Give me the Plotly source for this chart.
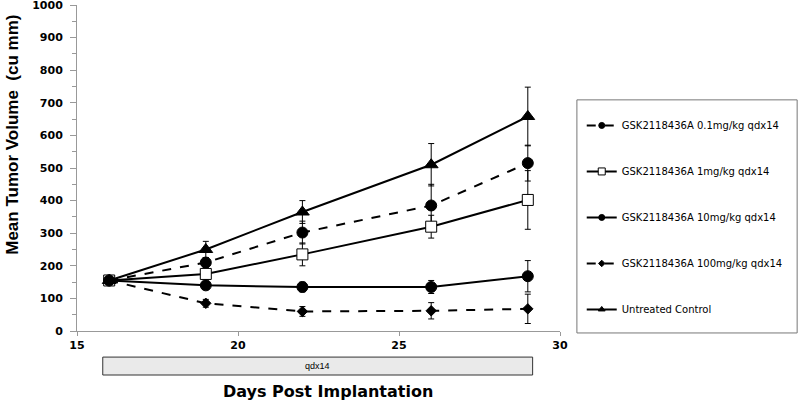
import plotly.graph_objects as go

days = [16, 19, 22, 26, 29]

names = [
    "GSK2118436A 0.1mg/kg qdx14",
    "GSK2118436A 1mg/kg qdx14",
    "GSK2118436A 10mg/kg qdx14",
    "GSK2118436A 100mg/kg qdx14",
    "Untreated Control",
]

dose_01 = [155, 210, 302, 385, 515]
dose_01_err = [8, 15, 35, 65, 55]
dose_1 = [155, 175, 235, 320, 402]
dose_1_err = [8, 12, 35, 35, 90]
dose_10 = [155, 140, 135, 135, 168]
dose_10_err = [8, 10, 15, 20, 48]
dose_100 = [155, 85, 60, 62, 68]
dose_100_err = [8, 12, 15, 25, 45]
control = [155, 250, 365, 510, 658]
control_err = [8, 25, 35, 65, 90]

dosing_start = 15.8
dosing_end = 29.15
dosing_label = "qdx14"

x_title = "Days Post Implantation"
y_title = "Mean Tumor Volume  (cu mm)"

series = [
    (names[0], dose_01, dose_01_err, "dash", "circle", 11, "black", 6),
    (names[1], dose_1, dose_1_err, "solid", "square", 11, "white", 7),
    (names[2], dose_10, dose_10_err, "solid", "circle", 11, "black", 6),
    (names[3], dose_100, dose_100_err, "dash", "diamond", 8, "black", 5),
    (names[4], control, control_err, "solid", "triangle-up", 12, "black", 6),
]

fig = go.Figure()
for i, (nm, vals, errs, dash, sym, sz, fill, lsz) in enumerate(series):
    fig.add_trace(go.Scatter(
        x=days, y=vals, name=nm, mode="lines+markers",
        line=dict(color="black", width=2, dash=dash),
        marker=dict(symbol=sym, size=sz, color=fill, line=dict(color="black", width=1)),
        error_y=dict(type="data", array=errs, visible=True, color="black", thickness=1, width=3),
        showlegend=False,
    ))
    # legend-only entry with small marker like the reference
    fig.add_trace(go.Scatter(
        x=[None], y=[None], name=nm, mode="lines+markers",
        line=dict(color="black", width=2, dash=dash),
        marker=dict(symbol=sym, size=lsz, color=fill, line=dict(color="black", width=1)),
        legendgroup=str(i), showlegend=True,
    ))

font = "Liberation Sans, Arial, sans-serif"
wide = "DejaVu Sans, Verdana, sans-serif"

fig.update_layout(
    width=800, height=404,
    margin=dict(l=77, r=240, t=5, b=73),
    paper_bgcolor="white", plot_bgcolor="white",
    showlegend=True,
    legend=dict(
        x=1.045, xanchor="left", y=0.675, yanchor="top",
        borderwidth=0,
        font=dict(family=wide, size=10, color="black"),
        tracegroupgap=27,
        bgcolor="rgba(0,0,0,0)",
    ),
    font=dict(family=font, color="black"),
)

fig.update_xaxes(
    range=[15, 30], tickvals=[15, 20, 25, 30], automargin=False,
    showline=True, linecolor="#999999", linewidth=1,
    ticks="outside", ticklen=4, tickcolor="#999999",
    showgrid=False, zeroline=False,
    tickfont=dict(family=wide, size=11, color="black", weight="bold"),
)
fig.update_yaxes(
    range=[0, 1000], dtick=100, automargin=False,
    showline=True, linecolor="#999999", linewidth=1,
    ticks="outside", ticklen=6, tickcolor="#999999",
    minor=dict(dtick=50, ticks="outside", ticklen=4, tickcolor="#999999"),
    showgrid=False, zeroline=False, ticklabelstandoff=5,
    ticklabeloverflow="allow",
    tickfont=dict(family=wide, size=11, color="black", weight="bold"),
)

# axis titles
fig.add_annotation(x=0.52, y=-0.187, xref="paper", yref="paper",
                   xanchor="center", yanchor="middle",
                   text=x_title, showarrow=False,
                   font=dict(family=wide, size=16, color="black", weight="bold"))
fig.add_annotation(x=-0.1325, y=0.602, xref="paper", yref="paper", textangle=-90,
                   xanchor="center", yanchor="middle",
                   text=y_title, showarrow=False,
                   font=dict(family=font, size=17, color="black", weight="bold"))

# legend frame
fig.add_shape(type="rect", xref="paper", yref="paper",
              x0=1.035, x1=1.491, y0=-0.006, y1=0.709,
              line=dict(color="#777777", width=1), fillcolor="rgba(0,0,0,0)")

# dosing bar
fig.add_shape(type="rect", xref="x", yref="paper",
              x0=dosing_start, x1=dosing_end, y0=-0.135, y1=-0.08,
              fillcolor="#eaeaea", line=dict(color="#333333", width=1))
fig.add_annotation(x=(dosing_start + dosing_end) / 2, y=-0.1075, xref="x", yref="paper",
                   xanchor="center", yanchor="middle",
                   text=dosing_label, showarrow=False,
                   font=dict(family=font, size=9, color="black"))

fig.write_html("out.html", config={"displayModeBar": False},
               post_script="document.body.style.margin='0';")
